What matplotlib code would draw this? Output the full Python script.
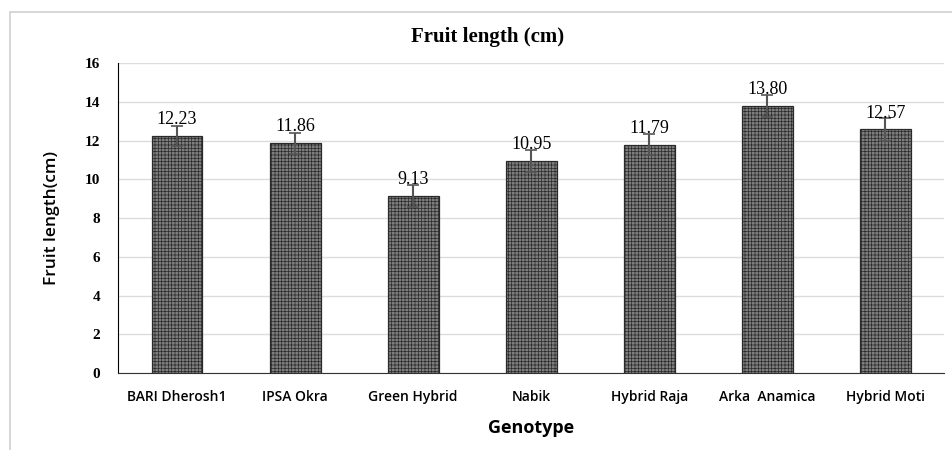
import matplotlib.pyplot as plt
from matplotlib.patches import Rectangle

# data
genotype = ['BARI Dherosh1', 'IPSA Okra', 'Green Hybrid', 'Nabik',
            'Hybrid Raja', 'Arka  Anamica', 'Hybrid Moti']
fruit_length = [12.23, 11.86, 9.13, 10.95, 11.79, 13.80, 12.57]
error = [0.52, 0.55, 0.55, 0.55, 0.55, 0.57, 0.57]

plt.rcParams['hatch.color'] = '#4a4a4a'
plt.rcParams['hatch.linewidth'] = 0.5

fig = plt.figure(figsize=(9.52, 4.5), dpi=100)
ax = fig.add_axes([0.124, 0.171, 0.868, 0.689])

# light frame around the chart
fig.patches.append(Rectangle((0.011, -0.01), 1.0, 0.983, transform=fig.transFigure,
                             fill=False, edgecolor='#d0d0d0', linewidth=1.2))

x = range(len(genotype))
bars = ax.bar(x, fruit_length, width=0.43, color='#7e7e7e', edgecolor='#2a2a2a',
              linewidth=0.9, hatch='+++++', zorder=3)
ax.errorbar(x, fruit_length, yerr=error, fmt='none', ecolor='#555555',
            elinewidth=1.5, capsize=4, capthick=1.2, zorder=4)

# value labels
for xi, v in zip(x, fruit_length):
    ax.text(xi, v + 0.4, f'{v:.2f}', ha='center', va='bottom', fontsize=13,
            family='Liberation Serif', zorder=5)

ax.set_ylim(0, 16)
ax.set_xlim(-0.5, 6.5)
ax.set_yticks(range(0, 17, 2))
ax.set_yticklabels([str(t) for t in range(0, 17, 2)], family='Liberation Serif',
                   fontweight='bold', fontsize=11)
ax.set_xticks(list(x))
ax.set_xticklabels(genotype, family='Open Sans', fontsize=10, fontweight='semibold')
ax.tick_params(axis='both', length=0)
ax.tick_params(axis='y', pad=13)
ax.tick_params(axis='x', pad=12)

ax.grid(axis='y', color='#dcdcdc', linewidth=1, zorder=0)
for s in ['top', 'right']:
    ax.spines[s].set_visible(False)
ax.spines['left'].set_color('black')
ax.spines['bottom'].set_color('#333333')

fig.text(488 / 952, 1 - 37 / 450, 'Fruit length (cm)', family='Liberation Serif',
         fontweight='bold', fontsize=15, ha='center', va='center')
ax.set_xlabel('Genotype', family='Open Sans', fontweight='bold', fontsize=13, labelpad=11)
ax.set_ylabel('Fruit length(cm)', family='Open Sans', fontweight='semibold',
              fontsize=12.5, labelpad=18)

fig.savefig('out.png', dpi=100)
